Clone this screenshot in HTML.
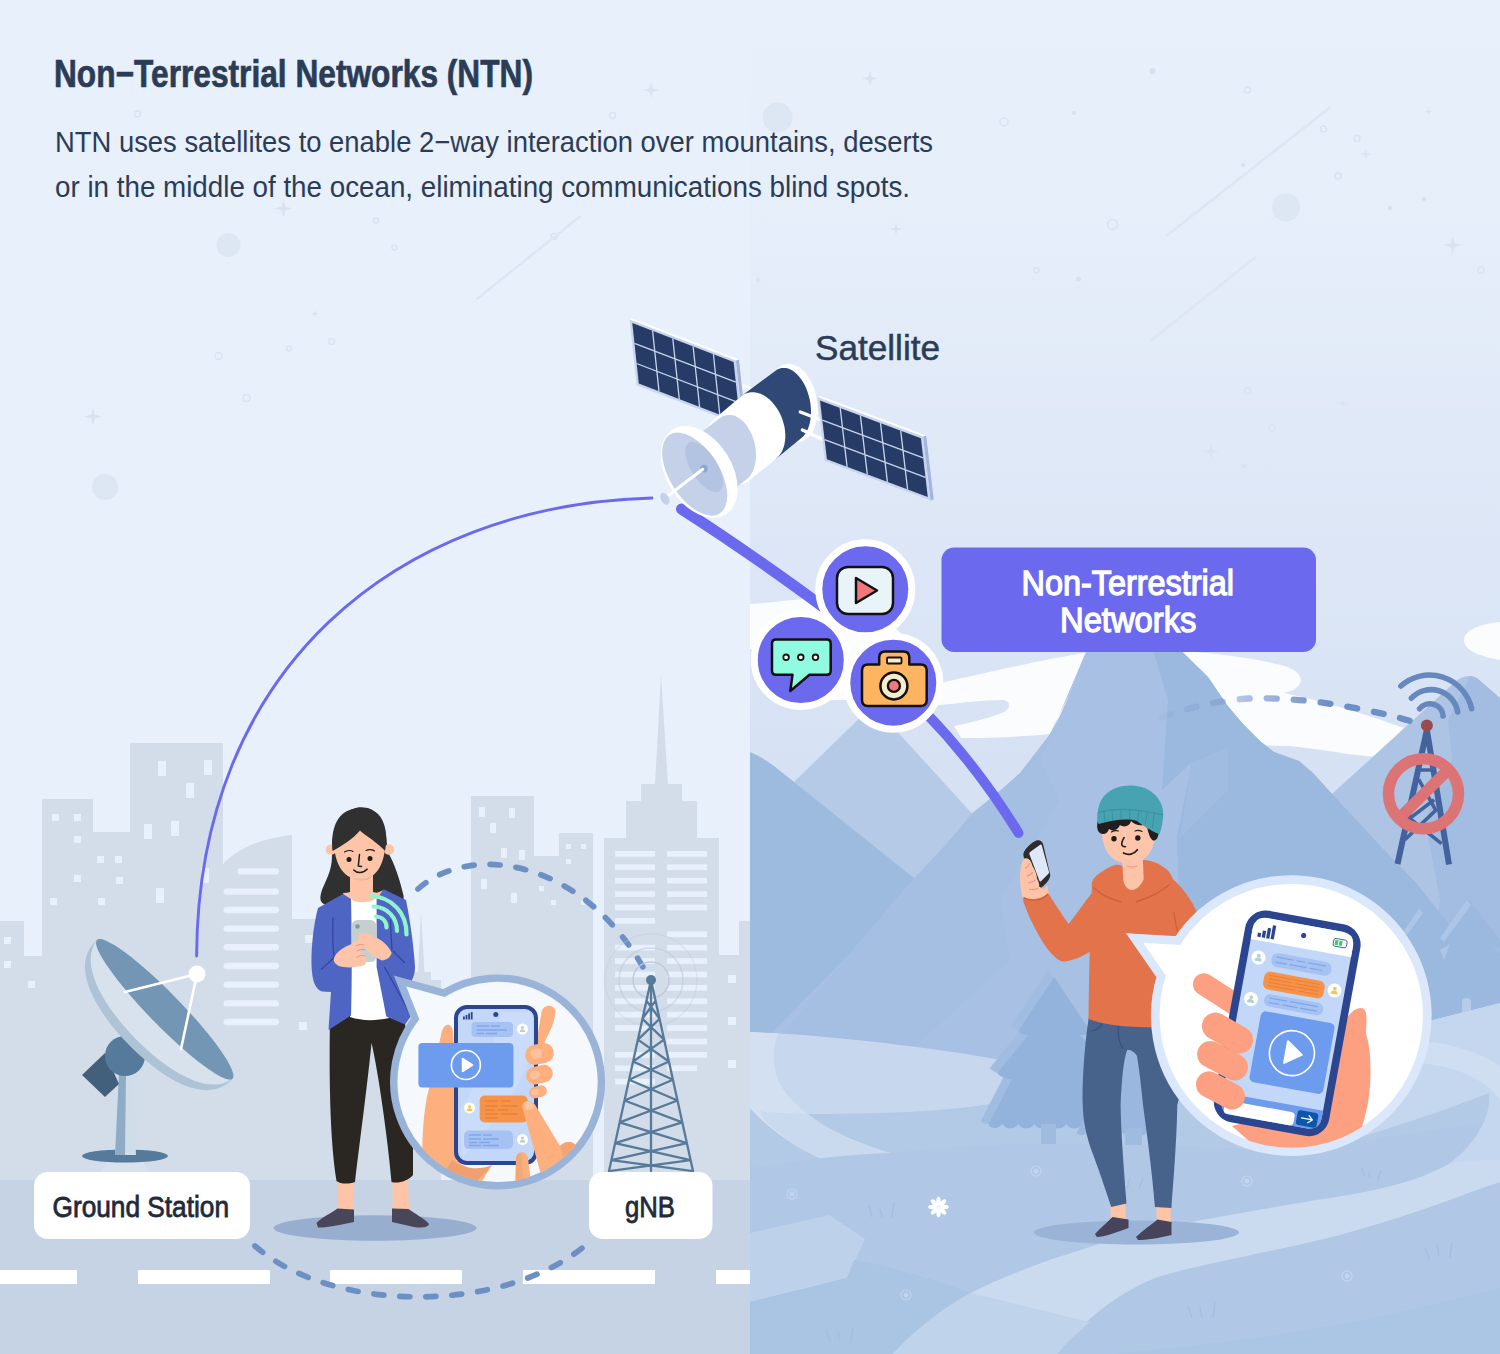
<!DOCTYPE html>
<html><head><meta charset="utf-8"><title>Non-Terrestrial Networks (NTN)</title>
<style>
html,body{margin:0;padding:0;background:#e8f0fb;}
body{width:1500px;height:1354px;overflow:hidden;font-family:"Liberation Sans",sans-serif;}
svg{display:block;}
text{font-family:"Liberation Sans",sans-serif;}
</style></head><body>
<svg width="1500" height="1354" viewBox="0 0 1500 1354">
<defs>
<linearGradient id="skyR" gradientUnits="userSpaceOnUse" x1="0" y1="0" x2="0" y2="760">
<stop offset="0" stop-color="#e8f0fb"/><stop offset="0.300" stop-color="#e6eefa"/><stop offset="0.620" stop-color="#dfe8f7"/><stop offset="1" stop-color="#d6e2f4"/>
</linearGradient>
<linearGradient id="dashfade" gradientUnits="userSpaceOnUse" x1="1160" y1="0" x2="1330" y2="0">
<stop offset="0" stop-color="#6c8fc4" stop-opacity="0.05"/><stop offset="1" stop-color="#6c8fc4" stop-opacity="1"/>
</linearGradient>
<clipPath id="clipL"><rect x="0" y="0" width="750" height="1354"/></clipPath>
<clipPath id="clipR"><rect x="750" y="0" width="750" height="1354"/></clipPath>
</defs>
<!-- left sky -->
<rect x="0" y="0" width="750" height="1354" fill="#e8f0fb"/>
<!-- right sky -->
<rect x="750" y="0" width="750" height="1100" fill="url(#skyR)"/>
<!-- faint decorations -->
<g fill="#dde6f3"><circle cx="228.500" cy="245" r="12"/><circle cx="105" cy="487" r="13"/><circle cx="1286" cy="207.500" r="14"/><circle cx="777.500" cy="117.500" r="15"/></g>
<g fill="none" stroke="#d9e3f1" stroke-width="1.500"><circle cx="137.5" cy="114" r="3"/><circle cx="376" cy="220.5" r="2.5"/><circle cx="394.5" cy="247.5" r="2.5"/><circle cx="218.5" cy="356" r="3.5"/><circle cx="246.5" cy="398" r="3.5"/><circle cx="331.5" cy="341.5" r="3"/><circle cx="289" cy="348.5" r="2.5"/><circle cx="612.5" cy="115.5" r="3"/><circle cx="554" cy="236.5" r="3"/><circle cx="1004" cy="122" r="4"/><circle cx="1247.5" cy="90" r="3"/><circle cx="1323.5" cy="129" r="3"/><circle cx="1357" cy="138.5" r="3"/><circle cx="1338" cy="176" r="3"/><circle cx="1112.5" cy="224.5" r="5"/><circle cx="1036.5" cy="270.5" r="2.5"/><circle cx="1247.5" cy="391" r="3"/><circle cx="1272" cy="428" r="3"/><circle cx="1481" cy="270" r="3"/></g>
<g fill="#d6e0ef"><circle cx="1152.5" cy="71" r="3"/><circle cx="1078.5" cy="279" r="2.5"/><circle cx="1243.5" cy="165" r="2"/><circle cx="1074" cy="113" r="2"/><circle cx="1390" cy="208" r="2"/><circle cx="1424" cy="199" r="2"/><circle cx="1244" cy="466" r="2"/></g>
<g stroke="#dde6f2" stroke-width="2.500" stroke-linecap="round"><line x1="477.500" y1="298.500" x2="580" y2="216.500"/><line x1="1167.500" y1="235" x2="1330" y2="107.500"/><line x1="1151.500" y1="340" x2="1255" y2="257.500"/></g>
<g fill="#d9e3f1"><path d="M283.5,199.5 L285.48,206.52 L292.5,208.5 L285.48,210.48 L283.5,217.5 L281.52,210.48 L274.5,208.5 L281.52,206.52 Z"/><path d="M93,407.5 L94.98,414.52 L102,416.5 L94.98,418.48 L93,425.5 L91.02,418.48 L84,416.5 L91.02,414.52 Z"/><path d="M651,82 L652.76,88.24 L659,90 L652.76,91.76 L651,98 L649.24,91.76 L643,90 L649.24,88.24 Z"/><path d="M315,310 L315.88,313.12 L319,314 L315.88,314.88 L315,318 L314.12,314.88 L311,314 L314.12,313.12 Z"/><path d="M870,70.5 L871.76,76.74 L878,78.5 L871.76,80.26 L870,86.5 L868.24,80.26 L862,78.5 L868.24,76.74 Z"/><path d="M896,223 L897.32,227.68 L902,229 L897.32,230.32 L896,235 L894.68,230.32 L890,229 L894.68,227.68 Z"/><path d="M1452.5,236 L1454.48,243.02 L1461.5,245 L1454.48,246.98 L1452.5,254 L1450.52,246.98 L1443.5,245 L1450.52,243.02 Z"/><path d="M1211,443.5 L1212.76,449.74 L1219,451.5 L1212.76,453.26 L1211,459.5 L1209.24,453.26 L1203,451.5 L1209.24,449.74 Z"/><path d="M1366,149 L1367.1,152.9 L1371,154 L1367.1,155.1 L1366,159 L1364.9,155.1 L1361,154 L1364.9,152.9 Z"/><path d="M1342.5,398.5 L1343.6,402.4 L1347.5,403.5 L1343.6,404.6 L1342.5,408.5 L1341.4,404.6 L1337.5,403.5 L1341.4,402.4 Z"/><path d="M1428.5,107.5 L1429.38,110.62 L1432.5,111.5 L1429.38,112.38 L1428.5,115.5 L1427.62,112.38 L1424.5,111.5 L1427.62,110.62 Z"/><path d="M758,276 L758.88,279.12 L762,280 L758.88,280.88 L758,284 L757.12,280.88 L754,280 L757.12,279.12 Z"/></g>

<g clip-path="url(#clipL)">
<path d="M0,1180 L0,921 L24,921 L24,956 L42,956 L42,799 L93,799 L93,832 L130,832 L130,743 L223,743 L223,864 C240,846 265,838 292,835 L292,919 L400,919 L400,972 L418,972 L421,911 L424.500,972 L431,972 L431,980 L441,980 L441,1180 Z" fill="#d3dde9"/>
<path d="M471,1180 L471,796 L534,796 L534,856 L559,856 L559,833 L593,833 L593,1180 Z" fill="#d3dde9"/>
<path d="M604,1180 L604,838 L626,838 L626,801 L641,801 L641,784 L655,784 L661,675 L668,784 L682,784 L682,801 L697,801 L697,838 L719,838 L719,955 L739,955 L739,921 L750,921 L750,1180 Z" fill="#d3dde9"/>
<g fill="#e8f0fb"><rect x="52" y="814" width="7" height="7"/><rect x="74" y="814" width="7" height="7"/><rect x="74" y="836" width="7" height="7"/><rect x="74" y="875" width="7" height="7"/><rect x="50" y="898" width="7" height="7"/><rect x="4" y="937" width="7" height="7"/><rect x="4" y="961" width="7" height="7"/><rect x="28" y="981" width="7" height="7"/><rect x="97" y="856" width="7" height="7"/><rect x="115" y="856" width="7" height="7"/><rect x="116" y="877" width="7" height="7"/><rect x="98" y="898" width="7" height="7"/><rect x="158" y="761" width="8" height="15"/><rect x="204" y="760" width="8" height="15"/><rect x="186" y="783" width="8" height="15"/><rect x="144" y="824" width="8" height="15"/><rect x="171" y="821" width="8" height="15"/><rect x="156" y="888" width="8" height="15"/><rect x="201" y="868" width="8" height="15"/><rect x="305" y="935" width="8" height="8"/><rect x="299" y="1022" width="8" height="8"/><rect x="479" y="807" width="6" height="10"/><rect x="509" y="808" width="6" height="10"/><rect x="490" y="823" width="6" height="10"/><rect x="501" y="848" width="6" height="10"/><rect x="519" y="850" width="6" height="10"/><rect x="481" y="879" width="6" height="10"/><rect x="511" y="893" width="6" height="10"/><rect x="566" y="844" width="5" height="5"/><rect x="581" y="844" width="5" height="5"/><rect x="566" y="859" width="5" height="5"/><rect x="538" y="872" width="5" height="5"/><rect x="539" y="886" width="5" height="5"/><rect x="551" y="900" width="5" height="5"/><rect x="581" y="900" width="5" height="5"/><rect x="728" y="975" width="8" height="8"/><rect x="728" y="1017" width="8" height="8"/><rect x="728" y="1060" width="8" height="8"/></g>
<g fill="#e8f0fb"><rect x="237.5" y="868.2" width="41.5" height="6.400" rx="3.200"/><rect x="223.5" y="888.4" width="55.5" height="6.400" rx="3.200"/><rect x="223.5" y="906.8" width="55.5" height="6.400" rx="3.200"/><rect x="223.5" y="925.4" width="55.5" height="6.400" rx="3.200"/><rect x="223.5" y="944.0" width="55.5" height="6.400" rx="3.200"/><rect x="223.5" y="962.8" width="55.5" height="6.400" rx="3.200"/><rect x="223.5" y="981.4" width="55.5" height="6.400" rx="3.200"/><rect x="223.5" y="1000.2" width="55.5" height="6.400" rx="3.200"/><rect x="223.5" y="1018.8" width="55.5" height="6.400" rx="3.200"/></g>
<g fill="#e8f0fb"><rect x="615" y="1052.0" width="40" height="5.700"/><rect x="615" y="1065.4" width="40" height="5.700"/><rect x="615" y="1078.8" width="40" height="5.700"/><rect x="667" y="1038.6" width="40" height="5.700"/><rect x="667" y="1052.0" width="40" height="5.700"/><rect x="667" y="1065.4" width="30" height="5.700"/><rect x="615" y="851.0" width="40" height="5.700"/><rect x="667" y="851.0" width="40" height="5.700"/><rect x="615" y="864.4" width="40" height="5.700"/><rect x="667" y="864.4" width="40" height="5.700"/><rect x="615" y="877.8" width="40" height="5.700"/><rect x="667" y="877.8" width="40" height="5.700"/><rect x="615" y="891.2" width="40" height="5.700"/><rect x="667" y="891.2" width="40" height="5.700"/><rect x="615" y="904.6" width="40" height="5.700"/><rect x="667" y="904.6" width="40" height="5.700"/><rect x="667" y="931.4" width="40" height="5.700"/><rect x="615" y="918.0" width="40" height="5.700"/><rect x="615" y="944.8" width="40" height="5.700"/><rect x="667" y="944.8" width="40" height="5.700"/><rect x="615" y="958.2" width="40" height="5.700"/><rect x="667" y="958.2" width="40" height="5.700"/><rect x="615" y="971.6" width="40" height="5.700"/><rect x="667" y="971.6" width="40" height="5.700"/><rect x="615" y="985.0" width="40" height="5.700"/><rect x="667" y="985.0" width="40" height="5.700"/><rect x="615" y="998.4" width="40" height="5.700"/><rect x="667" y="998.4" width="40" height="5.700"/><rect x="615" y="1011.8" width="40" height="5.700"/><rect x="667" y="1011.8" width="40" height="5.700"/><rect x="615" y="1025.2" width="40" height="5.700"/><rect x="667" y="1025.2" width="40" height="5.700"/></g>
<rect x="0" y="1180" width="750" height="174" fill="#c6d3e4"/>
<rect x="0" y="1270" width="77" height="14" fill="#ffffff"/>
<rect x="138" y="1270" width="132" height="14" fill="#ffffff"/>
<rect x="330" y="1270" width="132" height="14" fill="#ffffff"/>
<rect x="523" y="1270" width="132" height="14" fill="#ffffff"/>
<rect x="716" y="1270" width="34" height="14" fill="#ffffff"/>
</g>
<!-- Right panel background: clouds, mountains, ground -->
<g clip-path="url(#clipR)">
<!-- clouds -->
<g fill="#fbfcfe">
<path d="M750,604 C775,603 795,598 830,598 C880,600 920,650 940,683 C990,672 1040,660 1090,652 L1100,700 L1050,734 C1020,737 985,738 961,738 L954,726 C975,722 995,716 1004,712 C1012,708 1010,700 1002,700 C985,700 960,703 940,705 L880,700 L800,700 C790,680 770,655 750,649 Z"/>
<path d="M1170,650 C1200,652 1245,656 1281,665 C1300,670 1306,680 1296,688 C1292,691 1287,692 1283,693 C1300,696 1325,702 1372,717 C1385,721 1395,725 1404,728 L1376,757 C1365,756 1355,755 1348,754 C1330,751 1310,748 1290,746 L1255,745 Z"/>
<path d="M1500,622 C1480,624 1464,630 1464,640 C1464,650 1478,656 1500,660 Z"/>
</g>
<!-- back mountain -->
<path d="M873,705 L1060,910 L1060,1000 L760,1000 L760,815 Z" fill="#b4cae6"/>
<!-- right mountain -->
<path d="M1300,830 L1332,794 L1455,682 C1462,675 1472,674 1478,679 L1500,698 L1500,1060 L1300,1060 Z" fill="#adc4e5"/>
<path d="M1470,676 C1474,676 1478,679 1478,679 L1500,698 L1500,1060 L1420,1060 L1440,900 L1425,820 L1452,760 L1448,720 Z" fill="#a3bde2"/>
<!-- left-front mountain -->
<path d="M750,752 C760,756 768,762 774,766 L960,915 L960,1060 L750,1060 Z" fill="#9dbadf"/>
<!-- main mountain -->
<path d="M1128,600 L1086,652 C1078,670 1072,688 1069,695 C1062,712 1056,724 1050,734 C1040,748 1030,760 1021,772 L1002,789 L971,814 L942,850 L914,878 L853,950 L760,1045 L760,1080 L1500,1080 L1500,980 L1448,923 L1417,884 L1386,852 L1360,824 L1332,794 L1313,773 L1299,761 L1274,752 L1260,741 L1243,724 L1227,705 L1208,677 L1183,652.500 Z" fill="#a7c0e3"/>
<!-- darker right facets of main mountain -->
<path d="M1150,640 L1183,652.500 L1208,677 L1227,705 L1243,724 L1260,741 L1274,752 L1299,761 L1313,773 L1332,794 L1360,824 L1386,852 L1417,884 L1448,923 L1500,980 L1500,1080 L1150,1080 L1180,930 L1177,837 L1192,762 L1162,790 L1168,700 Z" fill="#9bb8de"/>
<path d="M1192,762 L1180,838 L1228,790 L1228,748 Z" fill="#a7c0e3" opacity="0.500"/>
<!-- subtle lighter facet on left of main -->
<path d="M1086,652 L1040,760 L1060,800 L1000,900 L1010,960 L900,1060 L760,1060 L853,950 L914,879 L971,817 L1000,791 L1021,772 L1050,734 L1069,695 Z" fill="#a5bfe3"/>
</g>

<g clip-path="url(#clipR)">
<defs>
<path id="tree1" d="M0,0 L-36,54 C-34,57 -30,58 -26,58 L-57,96 C-54,100 -48,102 -42,102 L-66,148 C-62,152 -56,152 -52,147 C-48,153 -40,153 -36,147 C-32,153 -24,153 -20,147 C-16,153 -8,153 -4,147 C0,153 8,153 12,147 C16,153 24,153 28,147 C32,153 40,153 44,147 C48,153 56,153 60,148 L42,102 C48,102 54,100 57,96 L26,58 C30,58 34,57 36,54 Z"/>
</defs>
<!-- far right trees (very subtle) -->
<g>
<use href="#tree1" transform="translate(1419,909) scale(0.85)" fill="#9bb8de"/>
<use href="#tree1" transform="translate(1469,900) scale(0.95,0.82)" fill="#9bb8de"/>
<path d="M1467,900 L1440,938 L1444,942 L1471,905 Z" fill="#adc5e6"/>
<path d="M1419,909 L1403,932 L1407,935 L1423,913 Z" fill="#adc5e6"/>
<path d="M1440,950 L1450,944 L1444,960 Z" fill="#adc5e6"/>
<rect x="1462" y="998" width="9" height="23" rx="4" fill="#b5cbe8"/>
</g>
</g>

<!-- Right ground details -->
<g clip-path="url(#clipR)">
<!-- ground -->
<path d="M750,1032 C800,1036 900,1044 1000,1060 L1125,1075 L1300,1060 L1429,1021 L1500,1003 L1500,1354 L750,1354 Z" fill="#b3cae7"/>
<!-- snow patch -->
<path d="M750,1032 C800,1034 900,1042 1001,1060 L1040,1080 L1001,1102 C960,1110 900,1114 810,1114 C790,1113 770,1111 750,1108 Z" fill="#c7d8ee"/>
<!-- small path band on left -->
<path d="M750,1032 L778,1033.500 C768,1060 775,1085 795,1103 C820,1128 855,1142 890,1153 L822,1159 C790,1145 765,1125 750,1108 Z" fill="#d3e0f2"/>
<path d="M795,1103 C820,1128 855,1142 890,1153 L822,1159 C800,1150 780,1135 765,1121 L760,1111 C775,1113 790,1114 810,1114 Z" fill="#c9d9ee"/>
<!-- mid ground slightly different -->
<path d="M750,1168 C800,1160 850,1154 890,1153 C950,1146 1000,1144 1048,1144 L1125,1145 L1300,1150 L1500,1120 L1500,1354 L750,1354 Z" fill="#b0c8e6"/>
<!-- top-right light region -->
<path d="M1300,1060 L1429,1021 L1500,1003 L1500,1160 L1447,1165 C1470,1150 1492,1120 1489,1093 C1470,1100 1445,1110 1423,1117 C1390,1128 1350,1140 1320,1150 L1300,1100 Z" fill="#c5d7ee"/>
<path d="M1432,1042 C1460,1046 1485,1055 1500,1066 L1500,1100 C1490,1085 1470,1072 1440,1066 C1420,1062 1400,1062 1380,1064 Z" fill="#d0def1"/>
<path d="M1110,1354 C1200,1345 1300,1335 1400,1312 C1440,1303 1470,1295 1500,1288 L1500,1354 Z" fill="#abc5e4"/>
<!-- polygon left -->
<path d="M750,1233 L829,1215 L865,1239 L847,1278 L750,1302 Z" fill="#bdd1ea"/>
<!-- darker band -->
<path d="M750,1302 L847,1278 L854,1260 C890,1266 930,1278 971,1293 C940,1310 915,1330 893,1354 L750,1354 Z" fill="#aac4e4"/>
<!-- winding path -->
<path d="M893,1354 C915,1330 940,1310 971,1293 C990,1283 1005,1277 1018,1272 C1040,1263 1060,1256 1078,1251 C1095,1245 1110,1240 1125,1236 C1150,1230 1200,1220 1244,1212.500 C1280,1206 1310,1201 1334,1197.500 C1360,1193 1380,1189 1393,1185.500 C1415,1180 1432,1173 1447,1165 C1465,1160 1485,1160 1500,1160 L1500,1182 C1470,1192 1445,1202 1423,1209.500 C1395,1219 1365,1228 1334,1236.500 C1300,1245 1255,1254 1214,1263 C1190,1268 1170,1273 1155,1278 C1145,1282 1135,1287 1125,1293 C1100,1308 1075,1330 1057,1354 Z" fill="#cbdbef"/>
<path d="M971,1293 L1090,1322 C1078,1332 1066,1343 1057,1354 L893,1354 C915,1330 940,1310 971,1293 Z" fill="#bfd3eb"/>
<!-- sparkle dots and grass -->
<g fill="none" stroke="#c3d4ec" stroke-width="1.200"><circle cx="792" cy="1194" r="5"/><circle cx="1036" cy="1171" r="5"/><circle cx="906" cy="1295" r="5"/><circle cx="1247" cy="1181" r="5"/><circle cx="1347" cy="1276" r="5"/></g>
<g fill="#c3d4ec"><circle cx="792" cy="1194" r="2.500"/><circle cx="1036" cy="1171" r="2.500"/><circle cx="906" cy="1295" r="2.500"/><circle cx="1247" cy="1181" r="2.500"/><circle cx="1347" cy="1276" r="2.500"/></g>
<g stroke="#a3bde0" stroke-width="1.200" stroke-linecap="round">
<path d="M869,1206 l3,11 M880,1209 l2,8 M894,1203 l-2,14 M826,1330 l4,12 M838,1331 l2,10 M853,1327 l-2,15 M1362,1168 l2,8 M1369,1172 l1,6 M1381,1170 l-3,10 M1188,1306 l4,12 M1200,1308 l2,10 M1215,1303 l-2,15 M1425,1248 l4,11 M1437,1244 l2,12 M1452,1243 l-2,15 M1130,1178 l-3,10 M1143,1178 l-4,10"/>
</g>
<!-- flower -->
<g transform="translate(938.500,1207)" fill="#ffffff"><g id="pet"><ellipse cx="0" cy="-5.500" rx="2.200" ry="4.800"/></g><use href="#pet" transform="rotate(45)"/><use href="#pet" transform="rotate(90)"/><use href="#pet" transform="rotate(135)"/><use href="#pet" transform="rotate(180)"/><use href="#pet" transform="rotate(225)"/><use href="#pet" transform="rotate(270)"/><use href="#pet" transform="rotate(315)"/><circle r="2.500" fill="#f2f6fc"/></g>
</g>

<!-- Trees (right panel) -->
<g clip-path="url(#clipR)">

<!-- tree behind man : lighter shadow copy + main -->
<use href="#tree1" transform="translate(1048,970) scale(1.02)" fill="#a1bce1"/>
<use href="#tree1" transform="translate(1054.300,977)" fill="#93b2dc"/>
<rect x="1041" y="1124" width="15" height="20" fill="#9fbbe0"/>
<use href="#tree1" transform="translate(1126,1022) scale(0.75)" fill="#9ab8df"/>
<rect x="1125" y="1128" width="17" height="17" fill="#9fbbe0"/>
</g>

<!-- Ground station dish -->
<g>
<path d="M96,1180 L108,1160 L142,1160 L154,1180 Z" fill="#d8e1ec" opacity="0.9"/>
<ellipse cx="125" cy="1156" rx="43" ry="6.600" fill="#557a9b"/>
<path d="M119,1073 L133,1073 L136,1155 L115,1155 Z" fill="#d0dce8"/>
<path d="M119,1073 L126,1073 L125,1155 L115,1155 Z" fill="#8facc6"/>
<path d="M82,1075 L105,1097 L119,1084 L105,1053 Z" fill="#42607c"/>
<circle cx="125" cy="1056" r="20" fill="#557a9b"/>
<!-- dish back -->
<g transform="translate(164,1010) rotate(45.700)">
<path d="M-97,-1 C-99,40 -40,49.500 0,49.500 C40,49.500 99,40 97,-1 Z" fill="#aec3d5"/>
<path d="M-97,-1 C-92,31 -40,40.500 0,40.500 C40,40.500 92,31 97,-1 Z" fill="#d8e2ed"/>
<ellipse cx="0" cy="-1" rx="97" ry="16" fill="#7296b4"/>
</g>
<g stroke="#ffffff" stroke-width="2.600" stroke-linecap="round">
<line x1="197" y1="974" x2="125" y2="992"/><line x1="197" y1="974" x2="181" y2="1049"/>
</g>
<circle cx="197" cy="974" r="8.500" fill="#ffffff"/>
</g>

<!-- thin arc ground station to satellite -->
<path d="M196.600,956 C198,670 395,505 652,498" fill="none" stroke="#6b6aee" stroke-width="2.900" stroke-linecap="round"/>
<!-- dashed arcs left -->
<path d="M418,889 C470,842 585,858 648,976" fill="none" stroke="#6c8fc4" stroke-width="5.700" stroke-linecap="round" stroke-dasharray="10 16"/>
<path d="M255,1246 C330,1312 500,1316 586,1245" fill="none" stroke="#6c8fc4" stroke-width="5.700" stroke-linecap="round" stroke-dasharray="10 16"/>

<!-- Woman -->
<g>
<ellipse cx="375" cy="1228" rx="101.500" ry="12.700" fill="#98aece"/>
<!-- ankles -->
<path d="M338,1180 L354,1180 L354,1211 L337,1211 Z" fill="#fdc4a8"/>
<path d="M392.500,1180 L408,1180 L409,1211 L392.500,1211 Z" fill="#fdc4a8"/>
<!-- shoes -->
<path d="M316.500,1223 C322,1217 330,1214 337.500,1208.500 L354,1209.500 L354,1222 C340,1225 325,1228 318,1227.500 Z" fill="#4a4659"/>
<path d="M392,1208.500 L408.500,1209 C415,1214 424,1218 429,1224 C428,1228 420,1228 414,1227 L392,1222 Z" fill="#4a4659"/>
<!-- pants -->
<path d="M330,1016 L404,1016 C410,1060 414,1110 413,1175 C408,1181 398,1184 391.500,1182 C388,1140 378,1070 371.500,1043 C368,1080 360,1140 355,1182 C348,1184.500 340,1184 336.500,1181 C330,1140 329,1080 330,1016 Z" fill="#2a2722"/>
<!-- hair back -->
<path d="M363.300,807.500 C352,806 338,815 333.500,833 C331,846 333,858 331,866 C328,880 321,888 320.400,897 C320,902 323,904 326,905 L400,905 C403,903 404,900 403.600,896 C401,884 396,868 391,858 C387,851 387,845 386.400,838 C384,818 374,807 363.300,807.500 Z" fill="#303030"/>
<!-- ears -->
<circle cx="331" cy="849.500" r="5.200" fill="#fdc4a8"/><circle cx="389" cy="849.500" r="5.200" fill="#fdc4a8"/>
<!-- neck -->
<path d="M350,868 L373,868 L373,892 C380,893 384,895 384,895 L362,912 L342,896 C344,894 348,893 350,892 Z" fill="#fdc4a8"/>
<path d="M351,876 C356,882 367,882 372.500,876 L372.500,872 L351,872 Z" fill="#f6a893"/>
<!-- face -->
<path d="M334,836 C333,862 342,879 360,879.500 C378,879 386,862 385.500,836 C380,818 340,818 334,836 Z" fill="#fdc4a8"/>
<!-- fringe -->
<path d="M332.500,851 C331,835 334,815 350,810 C360,806 372,808 378,814 C386,822 388,838 385,851 C378,843 366,836 360,830.500 C354,838 342,846 332.500,851 Z" fill="#303030"/>
<!-- face features -->
<circle cx="349" cy="859.500" r="2.500" fill="#1d1d1d"/><circle cx="370" cy="858.500" r="2.500" fill="#1d1d1d"/>
<path d="M359.500,854.500 L358.300,866 L361.500,866.500" fill="none" stroke="#1d1d1d" stroke-width="1.500" stroke-linecap="round" stroke-linejoin="round"/>
<path d="M353.800,870 C357,873.500 363,873.500 367,869.200" fill="none" stroke="#1d1d1d" stroke-width="1.600" stroke-linecap="round"/>
<path d="M344.500,852 C347,850 351,850 353,851.500 M366,850.500 C369,849 373,849.500 374.500,851" fill="none" stroke="#1d1d1d" stroke-width="1.100" stroke-linecap="round"/>
<!-- shirt -->
<path d="M349,897 C355,903 368,903 377.500,896 L377.500,967 L389,1018 C375,1021 362,1021 350,1017 Z" fill="#ffffff"/>
<path d="M350,892.500 C355,900.500 369,901 376.500,893 L384,890 L380,905 L346,905 L343,893 Z" fill="#fdc4a8"/>
<path d="M351,899 C356,903.500 369,903.500 377,898 L377,912 L351,912 Z" fill="#ffffff"/>
<!-- cardigan left -->
<path d="M343,894 L318,908 C312,930 310.500,960 312,972 C313,984 317,990 322,991.500 L331,992 L328.500,1030 L351,1015.500 C352,980 352,940 351,899 Z" fill="#4f65c3"/>
<!-- cardigan right -->
<path d="M383.700,889.300 L406,900 C411,925 414,950 415,967 C415,973 413.500,977 412,980 L411,1016 L405,1024.500 L386.300,1016.600 L376.600,967 L376.600,899 Z" fill="#4f65c3"/>
<!-- arm detail lines -->
<g fill="none" stroke="#33429c" stroke-width="1.200" stroke-linecap="round">
<path d="M333,918 C332.500,935 333,950 334,957"/><path d="M321.500,969 C327,964 331,961 333.500,958"/>
<path d="M393.500,951.500 C397,955 401,959 404.500,962.500"/><path d="M384.600,967.500 C392,980 400,995 409,1012"/>
<path d="M390.500,920 C391,932 391.500,944 392,950"/>
</g>
<!-- phone -->
<rect x="351.500" y="920" width="25" height="42" rx="6" fill="#c5cfd0"/>
<circle cx="357.500" cy="926.500" r="2.300" fill="#7f9a9e"/>
<!-- hands -->
<path d="M334,958 C336,952 345,946 352,944 C356,941 359,938 362,940 C366,943 364,948 360,951 C366,954 368,960 365,965 C356,968 344,968 339,966 C335,964 333,961 334,958 Z" fill="#fdc4a8"/>
<path d="M360,934 C364,932 370,934 375,937 C382,940 389,946 391.700,953 C390,958 386,960 382,960.500 C376,958 372,954 368,951 C366,948 362,946 359.500,942 C358,939 358,936 360,934 Z" fill="#fdc4a8"/>
<g fill="none" stroke="#f08e8c" stroke-width="1" stroke-linecap="round">
<path d="M356,946 C359,944 362,944 364,945"/><path d="M357,951 C360,949 363,949 365,950"/><path d="M357,957 C360,955 363,955 365,956"/>
</g>
<!-- wifi arcs -->
<g fill="none" stroke="#8ff5cf" stroke-width="4.200" stroke-linecap="round">
<path d="M371,896 C392,897 407,913 406.500,934.500"/>
<path d="M373.500,906.500 C388,907 397,918 397,931"/>
<path d="M376,916.500 C383,917 386.500,922 386.500,927.500"/>
</g>
</g>

<!-- Man -->
<g>
<ellipse cx="1136.500" cy="1232.500" rx="102.500" ry="12" fill="#9ab3d6"/>
<!-- ankles -->
<path d="M1110,1200 L1125,1200 L1126,1221 L1111,1221 Z" fill="#fdc4a8"/>
<path d="M1156,1200 L1170,1200 L1171,1223 L1157,1223 Z" fill="#fdc4a8"/>
<!-- shoes -->
<path d="M1095,1234 C1100,1228 1107,1223 1112.500,1217 L1128.500,1219.500 L1128.500,1228 C1118,1232 1104,1237 1097,1237 Z" fill="#47435a"/>
<path d="M1136,1237 C1142,1231 1151,1225 1157.500,1219.500 L1171.500,1222 L1171.500,1235 C1160,1238 1145,1240 1138,1240 Z" fill="#47435a"/>
<!-- jeans -->
<path d="M1088.700,1018 L1195,1018 C1192,1050 1184,1080 1177.300,1105 C1177,1125 1176,1150 1171.400,1208 L1154.900,1207 C1152,1170 1147,1135 1143.100,1105.400 C1141,1085 1139,1068 1137,1056 C1134,1051 1130,1049.500 1127.300,1050 C1124,1058 1122,1075 1120.600,1105.400 C1121,1135 1124,1170 1126.500,1203.400 L1111.200,1207 C1104,1185 1097,1165 1092.300,1152.600 C1086,1135 1083,1120 1082.800,1105.400 C1082,1085 1084,1050 1088.700,1018 Z" fill="#47628b"/>
<path d="M1092,1031 C1097,1030 1101,1027 1103,1022 M1118,1026 C1118,1036 1119,1044 1123,1048" fill="none" stroke="#364f78" stroke-width="1.100" stroke-linecap="round"/>
<!-- hoodie body -->
<path d="M1122,866 C1118,863.500 1112,865 1103,871 C1098,874 1094,877 1092,882 C1090,930 1089,980 1088.500,1019 C1110,1027 1140,1029 1200,1026 L1200,920 C1195,905 1185,890 1172.800,879 C1171,873 1167,869 1163,867 C1158,863 1152,860.500 1143,860 Z" fill="#e2734a"/>
<!-- neck -->
<path d="M1122,857 L1142.800,857 L1143.700,879 C1141,886 1136,890 1131.700,890 C1128,890 1124.500,886 1123.400,881 Z" fill="#fdc4a8"/>
<!-- hood lines -->
<g fill="none" stroke="#cf5f3b" stroke-width="1.300" stroke-linecap="round">
<path d="M1094,888 C1100,894 1110,899 1120.800,901.800"/>
<path d="M1136.300,901.800 C1148,898 1160,893 1169,885"/>
<path d="M1174,913 C1175,920 1176,926 1177.500,931"/>
</g>
<!-- phone -->
<path d="M1023.300,854.700 C1023.600,849.500 1031.800,842.200 1036.900,840.300 C1039.900,839.600 1042.500,841.400 1043.200,844.400 L1050.200,874.700 C1051,878.300 1044.300,886.500 1040.300,887.900 C1038.400,888.300 1035.500,885 1033.600,882.400 L1029.500,865.800 L1024.400,860.300 Z" fill="#2d2d2d"/>
<path d="M1029.400,854.200 C1029.200,853 1029.600,852.400 1030.400,851.800 L1040.200,844.800 C1041,844.300 1041.600,844.600 1041.800,845.500 L1048.900,871.600 C1049.200,872.500 1049,873.200 1048.400,873.800 L1041,881.200 C1040.300,881.800 1039.600,881.600 1039.400,880.800 Z" fill="#dfe8f6"/>
<!-- hand -->
<path d="M1024.400,858.500 C1029,857 1031.500,862 1032.500,866 L1033.600,868 C1036,872 1037,876 1036.900,878.300 C1039,882 1039.500,885 1039.100,886.500 L1043,889 C1045,888 1046.500,886.500 1047.300,885 L1049,894 C1043,901 1030,903 1022.600,898 C1020,888 1019.500,876 1020.300,871.700 C1020.500,866 1022,861 1024.400,858.500 Z" fill="#fdc4a8"/>
<g fill="none" stroke="#f08e8c" stroke-width="1.100" stroke-linecap="round">
<path d="M1025.800,868 C1027.500,867 1029,865.500 1029.500,863.600"/><path d="M1027.300,876.100 C1029.500,875.500 1031.500,874 1032.500,872.400"/><path d="M1028.800,882.800 C1031,882.500 1034,881.500 1035.500,879.800"/><path d="M1029.500,889 C1032,890 1035.500,889.500 1037.700,888.300"/>
</g>
<!-- raised arm -->
<path d="M1092,893 C1086,900 1076,915 1068.700,924 C1062,915 1054,902 1048,893 C1043,899 1030,901 1023.600,896.800 C1023,899 1023,901 1023.900,903 C1028,915 1034,927 1039.900,937.300 C1045,946 1050,953 1055.400,957.200 C1059,961 1063,962 1066.500,961.200 C1074,960 1080,957 1084.200,955 L1096,948 L1100,900 Z" fill="#e2734a"/>
<path d="M1024.500,898 C1031,902 1042,900.500 1047.500,894.500" fill="none" stroke="#cf5f3b" stroke-width="1.200" stroke-linecap="round"/>
<!-- head -->
<path d="M1102,828 C1101,850 1112,863.500 1128.500,863.500 C1146,863.500 1156,850 1155.500,828 C1150,810 1108,810 1102,828 Z" fill="#ffc5aa"/>
<!-- hair -->
<path d="M1097.500,822 C1096,830 1099,834 1103,834 C1106,834 1108,832 1109,829 C1113,832 1118,830 1120,825 C1124,828 1130,826 1131,821 C1136,826 1142,826 1146,824 C1148,830 1149,838 1153,840.500 C1156,841 1158,838 1158.500,834 C1159,830 1160,826 1160,820 L1150,808 L1100,808 Z" fill="#1f1f1f"/>
<!-- beanie dome -->
<path d="M1098,818 C1096,798 1110,785.500 1130.700,785.500 C1151,785.500 1165,800 1163,818 Z" fill="#47a3b2"/>
<!-- cuff -->
<path d="M1097.500,813 C1110,808 1135,808 1163,815 C1163,823 1161,830 1159.500,834.500 C1150,830 1143,826 1137,821 C1128,818 1112,820 1098.600,824 C1097,821 1097,817 1097.500,813 Z" fill="#47a3b2"/>
<path d="M1097.500,813 C1110,808 1135,808 1163,815" fill="none" stroke="#3a909f" stroke-width="1.200"/>
<g stroke="#3a909f" stroke-width="1" stroke-linecap="round"><path d="M1104,812 l1,9 M1112,810.500 l0.500,9 M1121,810 l0,8.500 M1130,810 l-0.500,8.500 M1139,811 l-1,9 M1147,812.500 l-1.500,11 M1154,814 l-1.500,14"/></g>
<!-- face features -->
<circle cx="1114" cy="838.700" r="2.700" fill="#1d1d1d"/><circle cx="1137.800" cy="838" r="2.700" fill="#1d1d1d"/>
<path d="M1124.200,837.500 C1122.500,840 1121.500,843.500 1122,845.500 C1123,846.500 1124.500,846.800 1125.500,846.800" fill="none" stroke="#1d1d1d" stroke-width="1.500" stroke-linecap="round"/>
<path d="M1123.600,853 C1128,855.500 1134,854.500 1137.400,849.700" fill="none" stroke="#1d1d1d" stroke-width="1.700" stroke-linecap="round"/>
<path d="M1111.500,832 C1113.500,830.500 1116,830.500 1118.500,831 M1135,831 C1137.500,830 1140,830.500 1142,831.500" fill="none" stroke="#1d1d1d" stroke-width="1.200" stroke-linecap="round"/>
<path d="M1127,866 C1130,867.500 1134,867.500 1137,866" fill="none" stroke="#f08e8c" stroke-width="1" stroke-linecap="round"/>
</g>

<!-- Left bubble -->
<defs><clipPath id="bubLclip"><circle cx="497.500" cy="1082" r="100.500"/></clipPath></defs>
<g>
<path d="M400,981 L444,993 A103.800 103.800 0 1 1 415.150 1018.800 Z" fill="#f5f8fd" stroke="#9ab4d9" stroke-width="7.400" stroke-linejoin="miter"/>
<g clip-path="url(#bubLclip)">
<!-- left hand behind phone -->
<path d="M441,1035 C443,1022 452,1022 453,1032 L456,1090 L456,1160 C470,1172 485,1172 492,1165 L470,1200 L425,1200 C420,1160 422,1110 430,1085 Z" fill="#fdb07e"/>
<path d="M452,1160 C465,1170 480,1170 492,1165 C482,1178 470,1186 462,1192 L440,1180 Z" fill="#f0a070"/>
<!-- index finger upper right -->
<path d="M536.500,1042 L541.500,1012 C543,1003.500 555,1003.500 555.500,1012 C554.500,1022 550,1032 546,1039 L540,1054 Z" fill="#fdb07e"/>
<!-- phone -->
<rect x="456" y="1007" width="80" height="156" rx="11" fill="#c3d8f8" stroke="#2b4590" stroke-width="4"/>
<path d="M500,1012 L532,1012 L532,1050 C520,1090 490,1130 462,1158 L460,1110 C480,1080 495,1050 500,1012Z" fill="#cfe0fa" opacity="0.600"/>
<!-- status -->
<g fill="#2b4590"><rect x="463" y="1016.500" width="1.800" height="3"/><rect x="465.600" y="1015" width="1.800" height="4.500"/><rect x="468.200" y="1013.500" width="1.800" height="6"/><rect x="470.800" y="1012" width="1.800" height="7.500"/><circle cx="495.800" cy="1014.600" r="2.500"/></g>
<!-- chat 1 -->
<rect x="471.500" y="1022" width="41.500" height="15" rx="4" fill="#a6c2f2"/>
<g stroke="#7fa6ec" stroke-width="1.300"><line x1="476.500" y1="1026" x2="489" y2="1026"/><line x1="491" y1="1026" x2="500" y2="1026"/><line x1="476.500" y1="1030" x2="507" y2="1030"/><line x1="476.500" y1="1033.500" x2="484" y2="1033.500"/><line x1="486" y1="1033.500" x2="497" y2="1033.500"/></g>
<circle cx="522.500" cy="1029" r="5.500" fill="#ffffff"/><circle cx="522.500" cy="1027.500" r="1.500" fill="#b5d0cf"/><path d="M519.700,1032 a2.800 2.800 0 0 1 5.600 0z" fill="#b5d0cf"/>
<!-- fingers right -->
<rect x="525" y="1044" width="29" height="20" rx="10" fill="#fdb07e" transform="rotate(-12 539 1054)"/>
<rect x="526" y="1066" width="27" height="17.500" rx="8.700" fill="#fdb07e" transform="rotate(-14 539 1075)"/>
<rect x="529" y="1086" width="18" height="11.500" rx="5.700" fill="#fdb07e" transform="rotate(-14 538 1092)"/>
<g fill="#fec6a0" opacity="0.800"><rect x="531" y="1048" width="11" height="10" rx="4" transform="rotate(-12 539 1054)"/><rect x="530" y="1070" width="10" height="8" rx="4" transform="rotate(-14 539 1075)"/><rect x="531" y="1088.500" width="8" height="6" rx="3" transform="rotate(-14 538 1092)"/></g>
<!-- video card -->
<rect x="418.400" y="1043" width="95" height="44.600" rx="4" fill="#6d9bee"/>
<circle cx="465.900" cy="1065" r="14.500" fill="none" stroke="#ffffff" stroke-width="1.600"/>
<path d="M462.500,1058.500 L462.500,1071.500 L472.500,1065 Z" fill="#ffffff" stroke="#ffffff" stroke-width="1.500" stroke-linejoin="round"/>
<!-- orange bubble -->
<rect x="479.700" y="1095.500" width="48" height="27" rx="5" fill="#f6934a"/>
<g stroke="#ee7f33" stroke-width="1.300"><line x1="485" y1="1101" x2="498" y2="1101"/><line x1="501" y1="1101" x2="511" y2="1101"/><line x1="485" y1="1106" x2="498" y2="1106"/><line x1="501" y1="1106" x2="518" y2="1106"/><line x1="485" y1="1110" x2="495" y2="1110"/><line x1="498" y1="1110" x2="508" y2="1110"/><line x1="485" y1="1114" x2="498" y2="1114"/><line x1="501" y1="1114" x2="518" y2="1114"/><line x1="485" y1="1118" x2="498" y2="1118"/></g>
<circle cx="469.500" cy="1107.900" r="5.500" fill="#ffffff"/><circle cx="469.500" cy="1106.400" r="1.500" fill="#f7c65b"/><path d="M466.700,1111 a2.800 2.800 0 0 1 5.600 0z" fill="#f7c65b"/>
<!-- chat 3 -->
<rect x="464" y="1130.600" width="49" height="18.500" rx="5" fill="#a6c2f2"/>
<g stroke="#7fa6ec" stroke-width="1.300"><line x1="469" y1="1135" x2="481" y2="1135"/><line x1="483" y1="1135" x2="492" y2="1135"/><line x1="469" y1="1139" x2="481" y2="1139"/><line x1="483" y1="1139" x2="499" y2="1139"/><line x1="469" y1="1142.500" x2="477" y2="1142.500"/><line x1="479" y1="1142.500" x2="490" y2="1142.500"/><line x1="469" y1="1145.500" x2="481" y2="1145.500"/><line x1="483" y1="1145.500" x2="499" y2="1145.500"/></g>
<circle cx="522.500" cy="1139.600" r="5.500" fill="#ffffff"/><circle cx="522.500" cy="1138.100" r="1.500" fill="#b5d0cf"/><path d="M519.700,1142.600 a2.800 2.800 0 0 1 5.600 0z" fill="#b5d0cf"/>
<!-- pointing finger -->
<path d="M522,1106 C524,1098 534,1100 537,1108 L560,1146 C566,1140 572,1141 576,1145 L600,1200 L548,1200 Z" fill="#fdb07e"/>
<path d="M524,1103 C528,1100 533,1102 534,1107 C532,1110 528,1111 525,1109Z" fill="#fec6a0"/>
<path d="M560,1146 L566,1168 C570,1160 576,1150 576,1145 C571,1141 565,1141 560,1146Z" fill="#f0a070" opacity="0.700"/>
<!-- thumb bottom -->
<path d="M516,1158 C517,1150 527,1151 528,1158 L533,1200 L515,1200 Z" fill="#fdb07e"/>
<path d="M516,1158 C517,1152 521,1152 522,1156 L524,1200 L515,1200Z" fill="#f0a070" opacity="0.600"/>
</g>
</g>

<!-- Right bubble -->
<defs><clipPath id="bubRclip"><circle cx="1291.200" cy="1015.700" r="132"/></clipPath></defs>
<g>
<path d="M1134.500,938 L1177.800,940.600 A136 136 0 1 1 1161.100 976.200 Z" fill="#ffffff" stroke="#dbe8fb" stroke-width="8.700" stroke-linejoin="miter"/>
<g clip-path="url(#bubRclip)">
<!-- palm behind (right side) -->
<path d="M1340,1030 C1348,1012 1358,1005 1364,1009 C1368,1013 1366,1024 1366,1034 C1372,1050 1372,1090 1366,1112 L1360,1135 C1340,1152 1290,1154 1250,1142 L1232,1126 L1330,1100 Z" fill="#fda081"/>
<rect x="1190" y="983" width="58" height="22" rx="11" transform="rotate(33 1219 994)" fill="#fda081"/>
<!-- phone -->
<g transform="translate(1287.200,1023.300) rotate(10.300)">
<rect x="-54.700" y="-103.700" width="109.400" height="207.400" rx="17" fill="#c3d8f8" stroke="#2b4590" stroke-width="7.600"/>
<path d="M-51,-76.500 L-51,-87 Q-51,-100 -38,-100 L38,-100 Q51,-100 51,-87 L51,-76.500 Z" fill="#ffffff"/>
<path d="M-51,79.600 L51,79.600 L51,87 Q51,100 38,100 L-38,100 Q-51,100 -51,87 Z" fill="#6d9bee"/>
<!-- signal -->
<g fill="#2b4590"><rect x="-45" y="-84" width="3.300" height="4"/><rect x="-40.500" y="-87" width="3.300" height="7"/><rect x="-36" y="-90.500" width="3.300" height="10.500"/><rect x="-31.500" y="-94" width="3.300" height="14"/></g>
<circle cx="0.500" cy="-89.300" r="2.600" fill="#2b4590"/>
<rect x="31" y="-92.200" width="13.500" height="7.800" rx="2" fill="#ffffff" stroke="#2b4590" stroke-width="0.800"/><rect x="32.500" y="-90.900" width="3.200" height="5.200" fill="#3dcf6c"/><rect x="36.700" y="-90.900" width="3.200" height="5.200" fill="#3dcf6c"/>
<!-- chat1 -->
<rect x="-27" y="-67.400" width="61" height="14" rx="6.500" fill="#a6c2f2"/>
<g stroke="#7fa6ec" stroke-width="1.200"><line x1="-22" y1="-63.200" x2="-5" y2="-63.200"/><line x1="-2" y1="-63.200" x2="7" y2="-63.200"/><line x1="10" y1="-63.200" x2="28" y2="-63.200"/><line x1="-22" y1="-58.200" x2="-11" y2="-58.200"/><line x1="-8" y1="-58.200" x2="9" y2="-58.200"/><line x1="12" y1="-58.200" x2="25" y2="-58.200"/></g>
<circle cx="-40" cy="-59.600" r="7" fill="#ffffff"/><circle cx="-40" cy="-61.400" r="1.900" fill="#b5d0cf"/><path d="M-43.600,-55.900 a3.600 3.600 0 0 1 7.200 0z" fill="#b5d0cf"/>
<!-- orange -->
<rect x="-31" y="-47.800" width="61.500" height="18" rx="6" fill="#f6934a"/>
<g stroke="#ee7f33" stroke-width="1.200"><line x1="-26" y1="-44" x2="25" y2="-44"/><line x1="-26" y1="-40.600" x2="-2" y2="-40.600"/><line x1="1" y1="-40.600" x2="25" y2="-40.600"/><line x1="-26" y1="-37.200" x2="25" y2="-37.200"/><line x1="-26" y1="-33.800" x2="2" y2="-33.800"/><line x1="5" y1="-33.800" x2="25" y2="-33.800"/></g>
<circle cx="40.700" cy="-40.800" r="7" fill="#ffffff"/><circle cx="40.700" cy="-42.600" r="1.900" fill="#f7c65b"/><path d="M37.100,-37.100 a3.600 3.600 0 0 1 7.200 0z" fill="#f7c65b"/>
<!-- chat3 -->
<rect x="-27" y="-25.800" width="60" height="12.600" rx="6" fill="#a6c2f2"/>
<g stroke="#7fa6ec" stroke-width="1.200"><line x1="-22" y1="-21.800" x2="-4" y2="-21.800"/><line x1="-1" y1="-21.800" x2="27" y2="-21.800"/><line x1="-22" y1="-17.200" x2="-11" y2="-17.200"/><line x1="-8" y1="-17.200" x2="7" y2="-17.200"/><line x1="10" y1="-17.200" x2="27" y2="-17.200"/></g>
<circle cx="-40" cy="-17.400" r="7" fill="#ffffff"/><circle cx="-40" cy="-19.200" r="1.900" fill="#b5d0cf"/><path d="M-43.600,-13.700 a3.600 3.600 0 0 1 7.200 0z" fill="#b5d0cf"/>
<!-- video -->
<rect x="-27.500" y="-8" width="75" height="72" rx="5" fill="#6d9bee"/>
<circle cx="10" cy="28.500" r="22.500" fill="none" stroke="#ffffff" stroke-width="1.600"/>
<path d="M4,17.500 L4,39.500 L20,28.500 Z" fill="#ffffff" stroke="#ffffff" stroke-width="2" stroke-linejoin="round"/>
<!-- input -->
<rect x="-47" y="86.500" width="71" height="13.500" rx="4" fill="#ffffff"/>
<rect x="26.200" y="83.100" width="21" height="15" rx="3" fill="#0e57a8"/>
<path d="M31,90.600 L42,90.600 M38,87 L42,90.600 L38,94.200" fill="none" stroke="#ffffff" stroke-width="1.300" stroke-linecap="round" stroke-linejoin="round"/>
</g>
<!-- fingers left -->
<g fill="#fda081">
<rect x="1200" y="1019.500" width="55" height="27" rx="13.500" transform="rotate(30 1227.500 1033)"/>
<rect x="1195.500" y="1047.500" width="54" height="26.500" rx="13.200" transform="rotate(28 1222.500 1060.800)"/>
<rect x="1194.500" y="1077.500" width="52" height="26" rx="13" transform="rotate(28 1220.500 1090.500)"/>
</g>
</g>
</g>

<!-- gNB tower -->
<g fill="none" stroke="#b9c6df" stroke-width="1.500"><circle cx="651" cy="980" r="18" opacity="0.900"/><circle cx="651" cy="980" r="32" opacity="0.550"/><circle cx="651" cy="980" r="46" opacity="0.300"/></g>
<path d="M651,980 L609,1171 M651,980 L693,1171 M651,980 L651,1171 M646.5,1000.6 L659.6,1018.9 M655.5,1000.6 L642.4,1018.9 M642.4,1018.9 L664.1,1039.6 M659.6,1018.9 L637.9,1039.6 M637.9,1039.6 L668.9,1061.5 M664.1,1039.6 L633.1,1061.5 M633.1,1061.5 L672.9,1079.8 M668.9,1061.5 L629.1,1079.8 M629.1,1079.8 L677.5,1100.5 M672.9,1079.8 L624.5,1100.5 M624.5,1100.5 L682.3,1122.4 M677.5,1100.5 L619.7,1122.4 M619.7,1122.4 L686.9,1143.2 M682.3,1122.4 L615.1,1143.2 M615.1,1143.2 L690.6,1160.2 M686.9,1143.2 L611.4,1160.2 M611.4,1160.2 L693.0,1171.2 M690.6,1160.2 L609.0,1171.2" fill="none" stroke="#587a9a" stroke-width="2.300" stroke-linecap="round" stroke-linejoin="round"/>
<circle cx="651" cy="980" r="5" fill="#587a9a"/>
<!-- labels -->
<rect x="34" y="1172" width="216" height="67" rx="14" fill="#ffffff"/>
<rect x="589" y="1172" width="123.500" height="67" rx="14" fill="#ffffff"/>
<text x="52.500" y="1216.500" font-size="29.200" fill="#1f2a3a" stroke="#1f2a3a" stroke-width="0.800" textLength="176.500" lengthAdjust="spacingAndGlyphs">Ground Station</text>
<text x="625" y="1216.500" font-size="29.200" fill="#1f2a3a" stroke="#1f2a3a" stroke-width="0.800" textLength="50" lengthAdjust="spacingAndGlyphs">gNB</text>

<!-- dashed line to right tower -->
<path d="M1161,717.500 C1190,707 1220,700 1250,698.500 C1290,697 1330,703 1365,710 C1385,714 1398,717 1410,721" fill="none" stroke="url(#dashfade)" stroke-width="6.300" stroke-linecap="round" stroke-dasharray="10 17"/>
<!-- wifi arcs -->
<g fill="none" stroke="#6688be" stroke-width="5.600" stroke-linecap="round">
<path d="M1400.9,686.0 A43.1 43.1 0 0 1 1471.6,708.7"/>
<path d="M1411.4,698.2 A27.0 27.0 0 0 1 1457.7,712.0"/>
<path d="M1419.6,708.7 A13.2 13.2 0 0 1 1443.1,716.0"/>
</g>
<!-- tower -->
<g fill="none" stroke="#44629c" stroke-linejoin="round" stroke-linecap="butt">
<path d="M1426.900,730 L1397.500,864 M1426.900,730 L1449,864.500" stroke-width="6"/>
<path d="M1418.700,779.400 L1435.800,810.300 L1404.900,839.600 M1434.200,799.700 L1409.800,818.400 L1441.500,843.600 M1421,770 L1431,770" stroke-width="3.600"/>
</g>
<circle cx="1426.900" cy="725.500" r="6" fill="#9b4a4d"/>
<!-- no sign -->
<circle cx="1423.500" cy="793.800" r="35" fill="none" stroke="#dc7475" stroke-width="11.500"/>
<line x1="1400" y1="817.500" x2="1447.500" y2="770.500" stroke="#dc7475" stroke-width="11.500"/>

<!-- thick NTN link line -->
<path d="M681.500,509 C730,540 780,575 830,612" fill="none" stroke="#6b6aee" stroke-width="11" stroke-linecap="round"/>
<path d="M925,712 C960,748 992,790 1018.500,833" fill="none" stroke="#6b6aee" stroke-width="10" stroke-linecap="round"/>
<!-- icons -->
<g>
<circle cx="865.300" cy="589.300" r="46.500" fill="#6b6aee" stroke="#ffffff" stroke-width="7"/>
<circle cx="800.800" cy="660" r="46.500" fill="#6b6aee" stroke="#ffffff" stroke-width="7"/>
<circle cx="893.300" cy="682.700" r="46.500" fill="#6b6aee" stroke="#ffffff" stroke-width="7"/>
<!-- play -->
<rect x="837" y="567" width="56" height="47" rx="11" fill="#e8f4f8" stroke="#111111" stroke-width="2.500"/>
<path d="M856,578 L856,603 L877,590.500 Z" fill="#f0777c" stroke="#111111" stroke-width="2.500" stroke-linejoin="round"/>
<!-- chat -->
<path d="M776,639.500 L827,639.500 Q830.700,639.500 830.700,643.500 L830.700,670.700 Q830.700,674.700 827,674.700 L809.500,674.700 L790.300,691 L792.500,674.700 L776,674.700 Q772,674.700 772,670.700 L772,643.500 Q772,639.500 776,639.500 Z" fill="#90fbe0" stroke="#111111" stroke-width="2.500" stroke-linejoin="round"/>
<g fill="#ffffff" stroke="#111111" stroke-width="1.800"><circle cx="786.100" cy="657.300" r="2.800"/><circle cx="800.800" cy="657.300" r="2.800"/><circle cx="815.500" cy="657.300" r="2.800"/></g>
<!-- camera -->
<path d="M868,664.500 L879.200,664.500 L879.200,657.500 Q879.200,651.500 885.200,651.500 L903.300,651.500 Q909.300,651.500 909.300,657.500 L909.300,664.500 L920.700,664.500 Q926.700,664.500 926.700,670.500 L926.700,700 Q926.700,706 920.700,706 L868,706 Q862,706 862,700 L862,670.500 Q862,664.500 868,664.500 Z" fill="#ffb55f" stroke="#111111" stroke-width="2.500" stroke-linejoin="round"/>
<rect x="887" y="657.500" width="14.500" height="6" rx="1" fill="#f7edcb" stroke="#111111" stroke-width="1.800"/>
<circle cx="893.900" cy="685.900" r="13.500" fill="#f7edcb" stroke="#111111" stroke-width="2.500"/>
<circle cx="893.900" cy="685.900" r="6" fill="#f0777c" stroke="#111111" stroke-width="2.300"/>
</g>
<!-- label -->
<rect x="941.500" y="547.500" width="374.500" height="104.500" rx="12.500" fill="#6b6aee"/>
<text x="1021.500" y="595" font-size="34.500" fill="#ffffff" stroke="#ffffff" stroke-width="1.300" textLength="212.500" lengthAdjust="spacingAndGlyphs">Non-Terrestrial</text>
<text x="1060" y="631.500" font-size="34.500" fill="#ffffff" stroke="#ffffff" stroke-width="1.300" textLength="136.500" lengthAdjust="spacingAndGlyphs">Networks</text>

<!-- Satellite -->
<g>
<path d="M738,384 L752,390" stroke="#f4f7fd" stroke-width="5" fill="none"/>
<path d="M735.8,360.4 L739.0,359.4 L746.0,425.1 L742.8,426.1 Z" fill="#a3b5dd" />
<path d="M629.6,319.6 L632.8,318.6 L739.0,359.4 L735.8,360.4 Z" fill="#ffffff" />
<path d="M629.6,319.6 L735.8,360.4 L742.8,426.1 L636.6,385.3 Z" fill="#c9d5ee" />
<path d="M632.3,323.1 L733.6,362.1 L740.1,422.6 L638.8,383.6 Z" fill="#263c66" />
<path d="M652.6,330.9 L659.0,391.4 M672.8,338.7 L679.3,399.2 M693.1,346.5 L699.6,407.0 M713.4,354.3 L719.8,414.8 M634.5,343.3 L735.8,382.2 M636.6,363.5 L737.9,402.4" stroke="#c9d5ee" stroke-width="1.300" fill="none"/>
<path d="M800.300,412 L822,420.500 M802.400,430 L826,441" stroke="#ffffff" stroke-width="3.400" stroke-linecap="round" fill="none"/>
<path d="M806.7,438.8 L809.3,436.3 L811.7,433.2 L813.7,429.6 L815.3,425.5 L816.5,421.1 L817.3,416.3 L817.7,411.2 L817.6,406.0 L817.1,400.8 L816.1,395.6 L814.7,390.5 L813.0,385.7 L810.8,381.1 L808.4,377.0 L805.7,373.3 L802.7,370.2 L799.6,367.6 L796.3,365.7 L793.0,364.4 L789.7,363.8 L786.4,363.9 L783.3,364.8 L780.3,366.3 L777.6,368.4 L775.1,371.2 L772.9,374.5 L771.1,378.4 L769.7,382.7 L768.6,387.3 L768.1,392.2 L767.9,397.4 L768.2,402.6 L769.0,407.8 L770.1,413.0 L771.7,417.9 L773.6,422.6 L775.9,427.0 L778.5,430.9 L781.4,434.3 L784.4,437.2 L787.6,439.5 L790.9,441.1 L794.2,442.0 L797.5,442.2 L800.8,441.7 L803.8,440.6 L806.7,438.8 Z" fill="#ffffff" />
<path d="M775.2,370.9 L777.2,369.6 L779.2,368.7 L781.4,368.1 L783.6,367.9 L785.9,368.1 L788.2,368.6 L790.5,369.5 L792.8,370.8 L795.0,372.4 L797.2,374.4 L799.2,376.7 L801.2,379.2 L803.0,382.0 L804.7,385.1 L806.2,388.3 L807.5,391.7 L808.6,395.2 L809.6,398.9 L810.3,402.6 L810.7,406.3 L811.0,409.9 L811.0,413.6 L810.8,417.1 L810.3,420.5 L809.6,423.8 L808.7,426.8 L807.6,429.7 L806.3,432.2 L804.8,434.5 L803.2,436.5 L801.4,438.1 L776.1,458.7 L773.9,460.1 L771.6,461.2 L769.2,461.9 L766.7,462.3 L764.1,462.4 L761.4,462.0 L758.7,461.4 L756.0,460.3 L753.4,459.0 L750.8,457.3 L748.2,455.3 L745.8,453.0 L743.5,450.4 L741.4,447.6 L739.4,444.6 L737.7,441.5 L736.1,438.1 L734.8,434.7 L733.8,431.2 L732.9,427.7 L732.4,424.1 L732.1,420.6 L732.1,417.1 L732.4,413.8 L732.9,410.6 L733.7,407.5 L734.8,404.7 L736.1,402.1 L737.6,399.8 L739.4,397.7 L741.4,395.9 Z" fill="#2f4876" />
<path d="M800.300,412 L812,416.500 M802.400,430 L812,434.400" stroke="#ffffff" stroke-width="3.400" stroke-linecap="round" fill="none"/>
<path d="M741.4,395.9 L743.5,394.5 L745.8,393.4 L748.2,392.7 L750.7,392.3 L753.3,392.2 L756.0,392.6 L758.7,393.2 L761.4,394.3 L764.0,395.6 L766.6,397.3 L769.2,399.3 L771.6,401.6 L773.9,404.2 L776.0,407.0 L778.0,410.0 L779.7,413.1 L781.3,416.5 L782.6,419.9 L783.6,423.4 L784.5,426.9 L785.0,430.5 L785.3,434.0 L785.3,437.5 L785.0,440.8 L784.5,444.0 L783.7,447.1 L782.6,449.9 L781.3,452.5 L779.8,454.8 L778.0,456.9 L776.1,458.7 L748.5,481.2 L746.3,482.7 L744.1,483.8 L741.6,484.5 L739.1,484.9 L736.5,485.0 L733.9,484.7 L731.2,484.0 L728.5,483.0 L725.9,481.7 L723.3,480.0 L720.8,478.0 L718.3,475.8 L716.1,473.2 L714.0,470.5 L712.0,467.5 L710.3,464.4 L708.8,461.1 L707.5,457.7 L706.4,454.2 L705.6,450.7 L705.1,447.2 L704.8,443.7 L704.8,440.2 L705.1,436.9 L705.7,433.7 L706.5,430.7 L707.6,427.9 L708.9,425.3 L710.4,423.0 L712.2,420.9 L714.1,419.2 Z" fill="#ffffff" />
<path d="M719.9,418.1 L721.9,416.8 L723.9,415.8 L726.1,415.2 L728.3,414.9 L730.5,414.9 L732.8,415.3 L735.1,416.1 L737.4,417.2 L739.6,418.6 L741.8,420.3 L743.9,422.3 L745.9,424.6 L747.7,427.1 L749.4,429.9 L751.0,432.8 L752.3,435.9 L753.5,439.2 L754.4,442.5 L755.2,445.9 L755.7,449.3 L755.9,452.7 L756.0,456.1 L755.8,459.4 L755.4,462.6 L754.7,465.7 L753.9,468.5 L752.8,471.2 L751.5,473.6 L750.1,475.8 L748.4,477.7 L746.6,479.3 L729.3,492.9 L727.4,494.2 L725.3,495.2 L723.2,495.8 L721.0,496.1 L718.7,496.0 L716.4,495.6 L714.1,494.9 L711.9,493.8 L709.6,492.4 L707.4,490.6 L705.4,488.6 L703.4,486.4 L701.5,483.8 L699.8,481.1 L698.3,478.1 L697.0,475.0 L695.8,471.8 L694.8,468.5 L694.1,465.1 L693.6,461.6 L693.3,458.2 L693.3,454.8 L693.5,451.5 L693.9,448.3 L694.5,445.3 L695.4,442.4 L696.5,439.7 L697.7,437.3 L699.2,435.1 L700.8,433.2 L702.6,431.6 Z" fill="#c5d1e8" />
<ellipse cx="699.200" cy="471.900" rx="50.100" ry="32.800" transform="rotate(58 699.200 471.900)" fill="#ffffff"/>
<ellipse cx="694.700" cy="474.100" rx="46.600" ry="24.800" transform="rotate(57.600 694.700 474.100)" fill="#c5d1e8"/>
<ellipse cx="704.100" cy="467" rx="28.700" ry="13" transform="rotate(57.600 704.100 467)" fill="#b3c3e2"/>
<circle cx="704" cy="468.700" r="3.700" fill="#8ea5d3"/>
<path d="M702.700,469.300 L668.700,495.300" stroke="#ffffff" stroke-width="3" stroke-linecap="round"/>
<ellipse cx="664.900" cy="498.700" rx="4" ry="6.400" transform="rotate(-28 664.900 498.700)" fill="#c5d1e8"/>
<path d="M923.0,436.5 L926.2,435.5 L933.7,499.5 L930.5,500.5 Z" fill="#a3b5dd" />
<path d="M817.3,397.0 L820.5,396.0 L926.2,435.5 L923.0,436.5 Z" fill="#ffffff" />
<path d="M817.3,397.0 L923.0,436.5 L930.5,500.5 L824.8,461.0 Z" fill="#c9d5ee" />
<path d="M820.0,400.5 L920.9,438.2 L927.8,497.0 L826.9,459.3 Z" fill="#263c66" />
<path d="M840.2,408.0 L847.1,466.9 M860.4,415.6 L867.3,474.4 M880.5,423.1 L887.4,481.9 M900.7,430.6 L907.6,489.5 M822.3,420.1 L923.2,457.8 M824.6,439.7 L925.5,477.4" stroke="#c9d5ee" stroke-width="1.300" fill="none"/>
</g>
<!-- Title + body -->
<text x="54" y="87" font-size="38" font-weight="700" fill="#2b3c57" stroke="#2b3c57" stroke-width="0.700" textLength="479" lengthAdjust="spacingAndGlyphs">Non−Terrestrial Networks (NTN)</text>
<text x="55" y="152" font-size="29.500" fill="#2b3c57" textLength="878" lengthAdjust="spacingAndGlyphs">NTN uses satellites to enable 2−way interaction over mountains, deserts</text>
<text x="55" y="197" font-size="29.500" fill="#2b3c57" textLength="855" lengthAdjust="spacingAndGlyphs">or in the middle of the ocean, eliminating communications blind spots.</text>
<text x="815" y="359.500" font-size="35" fill="#2b3c57" stroke="#2b3c57" stroke-width="0.500" textLength="125" lengthAdjust="spacingAndGlyphs">Satellite</text>

</svg>
</body></html>
